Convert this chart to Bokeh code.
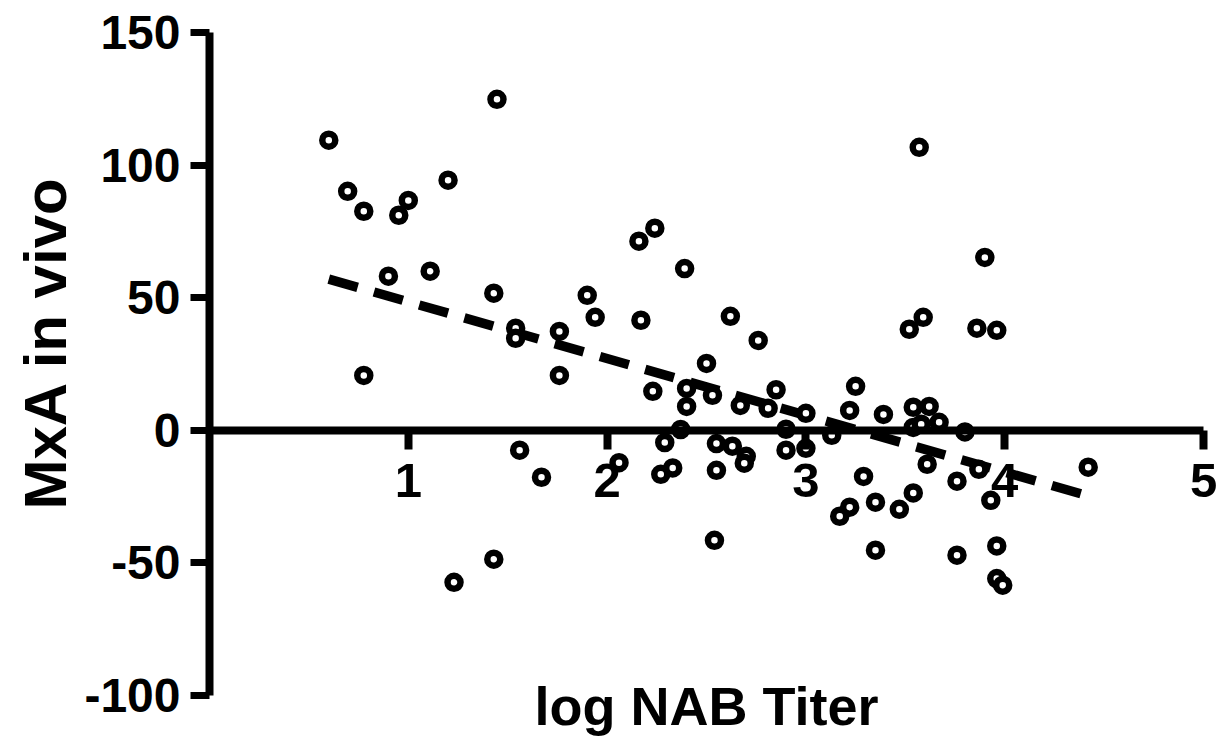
from bokeh.plotting import figure
from bokeh.models import Range1d, FixedTicker, Label
from bokeh.embed import file_html
from bokeh.resources import INLINE

# data
log_nab_titer = [0.60, 0.695, 0.776, 0.776, 0.952, 1.00, 0.90, 1.11, 1.20, 1.446,
                 1.43, 1.54, 1.54, 1.76, 1.90, 1.94, 1.76, 1.56, 1.67, 1.23,
                 1.43, 2.16, 2.24, 2.39, 2.17, 2.62, 2.76, 2.50, 2.23, 2.40,
                 2.40, 2.53, 2.67, 2.85, 2.81, 3.00, 3.25, 3.22, 3.39, 2.37,
                 2.90, 2.06, 2.29, 2.27, 2.33, 2.55, 2.63, 2.70, 2.69, 2.55,
                 2.54, 2.90, 3.00, 3.13, 3.29, 3.22, 3.17, 3.35, 3.35, 3.47,
                 3.57, 3.90, 3.52, 3.59, 3.86, 3.96, 3.54, 3.62, 3.67, 3.54,
                 3.58, 3.80, 3.61, 3.87, 3.76, 3.93, 3.54, 3.76, 3.96, 3.96,
                 3.99, 4.42]
mxa_in_vivo = [109.4, 90.1, 82.6, 20.7, 81.1, 86.7, 58.1, 60.0, 94.3, 124.8,
               51.7, 38.5, 34.7, 37.3, 50.9, 42.6, 20.7, -7.5, -17.7, -57.3,
               -48.6, 71.3, 76.2, 61.0, 41.5, 43.0, 33.9, 25.2, 14.7, 15.8,
               9.0, 13.2, 9.4, 15.3, 8.3, 6.4, 16.6, 7.5, 6.0, 0.3,
               0.4, -12.2, -4.6, -16.6, -14.2, -5.0, -6.0, -9.8, -12.4, -15.1,
               -41.5, -7.5, -6.8, -1.9, -17.4, -29.0, -32.4, -27.1, -45.2, -29.8,
               106.7, 65.2, 38.1, 42.6, 38.5, 37.7, 8.7, 9.0, 3.0, 1.1,
               2.3, -0.6, -12.8, -14.7, -19.2, -26.4, -23.6, -47.1, -43.6, -55.9,
               -58.4, -13.9]

fit_x = [0.60, 4.40]
fit_y = [57.0, -24.3]

x_ticks = [1, 2, 3, 4, 5]
y_ticks = [-100, -50, 0, 50, 100, 150]
x_axis_span = (0, 5)
y_axis_span = (-100, 150)

FONT = "Liberation Sans"

# frame covers the whole canvas; axes are drawn at fixed positions inside it
p = figure(width=1221, height=738, output_backend="svg", toolbar_location=None,
           x_range=Range1d(-1.0513, 5.0905), y_range=Range1d(-116.21, 162.07),
           min_border=0)
p.outline_line_color = None
p.xgrid.visible = False
p.ygrid.visible = False
p.background_fill_color = "white"
p.border_fill_color = "white"

# x axis drawn along y = 0
xa = p.xaxis[0]
xa.fixed_location = 0
xa.bounds = x_axis_span
xa.ticker = FixedTicker(ticks=x_ticks)
xa.minor_tick_line_color = None
xa.axis_line_width = 8
xa.major_tick_line_width = 8
xa.major_tick_in = 0
xa.major_tick_out = 19
xa.axis_line_color = "black"
xa.major_tick_line_color = "black"
xa.major_label_standoff = 15
xa.major_label_text_font = FONT
xa.major_label_text_font_style = "bold"
xa.major_label_text_font_size = "49px"
xa.major_label_text_color = "black"

# y axis drawn along x = 0
ya = p.yaxis[0]
ya.fixed_location = 0
ya.bounds = y_axis_span
ya.ticker = FixedTicker(ticks=y_ticks)
ya.major_label_overrides = {t: str(t) for t in y_ticks}
ya.minor_tick_line_color = None
ya.axis_line_width = 8
ya.major_tick_line_width = 7
ya.major_tick_in = 0
ya.major_tick_out = 19
ya.axis_line_color = "black"
ya.major_tick_line_color = "black"
ya.major_label_standoff = 10
ya.major_label_text_font = FONT
ya.major_label_text_font_style = "bold"
ya.major_label_text_font_size = "48px"
ya.major_label_text_color = "black"

p.line(fit_x, fit_y, line_color="black", line_width=9.5, line_dash="30 17",
       line_cap="butt")
p.scatter(log_nab_titer, mxa_in_vivo, marker="circle", size=13,
          fill_color="white", line_color="black", line_width=6.5)

p.add_layout(Label(x=2.5, y=-103.9, text="log NAB Titer", text_align="center",
                   text_baseline="alphabetic", text_font=FONT,
                   text_font_style="bold", text_font_size="54px",
                   text_color="black"))
p.add_layout(Label(x=-0.826, y=33.0, text="MxA in vivo", angle=1.5708,
                   text_align="center", text_baseline="middle", text_font=FONT,
                   text_font_style="bold", text_font_size="60px",
                   text_color="black"))

open("out.html", "w").write(file_html(p, INLINE))
